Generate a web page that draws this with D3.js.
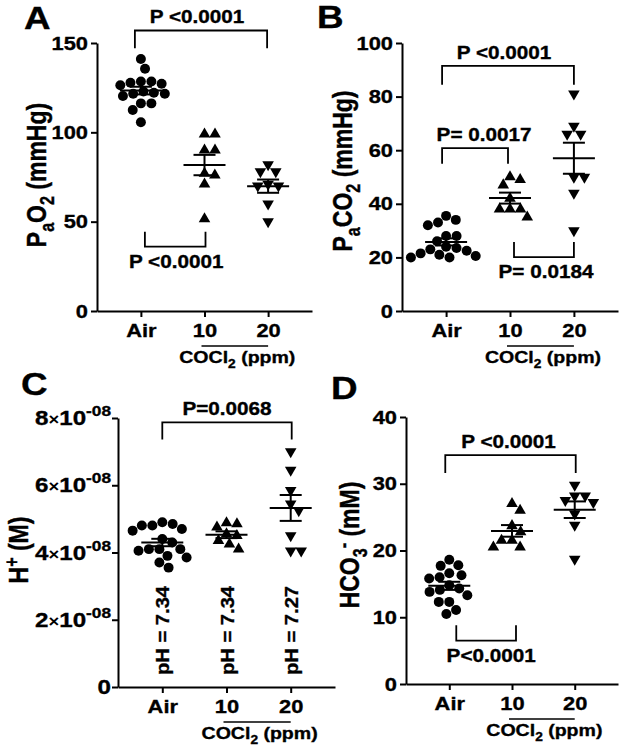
<!DOCTYPE html>
<html>
<head>
<meta charset="utf-8">
<script src="https://cdn.jsdelivr.net/npm/d3@7"></script>
<style>
    body { margin: 0; background: #fff; }
    svg { font-family: "Liberation Sans", Arial, sans-serif; font-weight: bold; }
    svg text { stroke: #000; stroke-width: 0.35px; fill: #000; }
</style>
</head>
<body>
<svg id="chart" width="625" height="750"></svg>
<script>
var groups = ["Air", "10", "20"];

// A: PaO2 (mmHg)
var pao2Air = [141, 135.6, 128.5, 127.8, 126.3, 127.2, 128.5, 121.6, 121.6, 120.3, 122.2, 116.2, 116.2, 112.5, 105.6, 122.8];
var pao2Ten = [99, 99, 90, 90, 77, 76, 71, 51.5];
var pao2Twenty = [78, 78, 82, 71, 70, 70, 60, 50];

// B: PaCO2 (mmHg)
var paco2Air = [35.5, 34, 33, 32, 28, 28, 26, 24, 23.5, 23, 22.5, 21.5, 21, 20.5, 20, 20];
var paco2Ten = [49, 50, 47, 42, 38, 38, 38, 35];
var paco2Twenty = [81, 66, 66, 69, 50, 50, 44, 30];

// C: H+ (M)
var hAir = [4.9e-8, 4.85e-8, 4.8e-8, 4.8e-8, 4.7e-8, 4.65e-8, 4.4e-8, 4.3e-8, 4.1e-8, 4.1e-8, 4.05e-8, 4.1e-8, 3.9e-8, 3.85e-8, 3.7e-8, 3.55e-8];
var hTen = [4.85e-8, 4.88e-8, 4.75e-8, 4.55e-8, 4.5e-8, 4.35e-8, 4.25e-8, 4.1e-8];
var hTwenty = [7.0e-8, 6.45e-8, 5.85e-8, 5.45e-8, 5.25e-8, 4.5e-8, 4.05e-8, 4.05e-8];
var phLabels = ["7.34", "7.34", "7.27"];

// D: HCO3- (mM)
var hco3Air = [18.6, 17.8, 17.7, 16.6, 16.3, 16.0, 15.8, 14.8, 14.3, 14.1, 13.8, 13.3, 12.3, 12.3, 11.1, 10.5];
var hco3Ten = [27, 26, 23.7, 22.8, 21.5, 21.5, 20.5, 20.5];
var hco3Twenty = [29.8, 28.2, 28.2, 27.5, 27.2, 25.5, 23.8, 18.7];

var ticksA = [0, 50, 100, 150];
var ticksB = [0, 20, 40, 60, 80, 100];
var ticksC = [0, 2e-8, 4e-8, 6e-8, 8e-8];
var ticksD = [0, 10, 20, 30, 40];

var SX = 1.15;
var svg = d3.select("#chart");

var panels = [
    {
        letter: "A", lx: 24, ly: 29,
        left: 97, right: 312, top: 43, bottom: 311, max: 150, ticks: ticksA,
        series: [pao2Air, pao2Ten, pao2Twenty],
        label: [["P", 0], ["a", 1], ["O", 0], ["2", 1], [" (mmHg)", 0]], labelX: 46, labelY: 175,
        brackets: [
            {from: "Air", to: "20", y: 157, leg: 147, text: "P <0.0001", dx1: -6, dx2: -1, tx: -4},
            {from: "Air", to: "10", y: 36, leg: 44.4, text: "P <0.0001", dx1: 4, dx2: 1, tx: 1, below: true}
        ]
    },
    {
        letter: "B", lx: 317, ly: 28,
        left: 402, right: 618, top: 43, bottom: 311, max: 100, ticks: ticksB,
        series: [paco2Air, paco2Ten, paco2Twenty],
        label: [["P", 0], ["a", 1], ["CO", 0], ["2", 1], [" (mmHg)", 0]], labelX: 352, labelY: 171,
        brackets: [
            {from: "Air", to: "20", y: 91.5, leg: 84.4, text: "P <0.0001", dx1: -4, dx2: 0, tx: -4},
            {from: "Air", to: "10", y: 60.8, leg: 54.9, text: "P= 0.0017", dx1: -4, dx2: -2, tx: 9},
            {from: "10", to: "20", y: 20.1, leg: 25.7, text: "P= 0.0184", dx1: 4, dx2: 0, tx: 2, below: true}
        ]
    },
    {
        letter: "C", lx: 21, ly: 395,
        left: 118, right: 335, top: 418, bottom: 687, max: 8e-8, ticks: ticksC, sci: true,
        series: [hAir, hTen, hTwenty],
        label: [["H", 0], ["+", 2], [" (M)", 0]], labelX: 28, labelY: 550,
        ph: phLabels,
        brackets: [
            {from: "Air", to: "20", y: 7.87e-8, leg: 7.36e-8, text: "P=0.0068", dx1: 0, dx2: 1, tx: 0}
        ]
    },
    {
        letter: "D", lx: 331, ly: 399,
        left: 406, right: 618, top: 417, bottom: 684, max: 40, ticks: ticksD,
        series: [hco3Air, hco3Ten, hco3Twenty],
        label: [["HCO", 0], ["3", 1], ["-", 2], [" (mM)", 0]], labelX: 359, labelY: 545,
        brackets: [
            {from: "Air", to: "20", y: 34.3, leg: 31.6, text: "P <0.0001", dx1: -4, dx2: 1, tx: -2},
            {from: "Air", to: "10", y: 6.5, leg: 8.8, text: "P<0.0001", dx1: 7, dx2: 4, tx: 5, below: true}
        ]
    }
];

function addText(g, x, y, parts, size, anchor, rotate, sx, sy) {
    var t = g.append("text")
        .attr("transform", "translate(" + x + "," + y + ")" + (rotate ? " rotate(-90)" : "") +
            " scale(" + sx + "," + (sy || 1) + ")")
        .attr("text-anchor", anchor)
        .style("font-size", size + "px");
    var shift = 0;
    parts.forEach(function (p) {
        var target = p[1] === 1 ? size * 0.3 : (p[1] === 2 ? -size * 0.33 : 0);
        t.append("tspan")
            .attr("dy", target - shift)
            .style("font-size", (p[1] ? size * 0.7 : size) + "px")
            .text(p[0]);
        shift = target;
    });
    return t;
}

function swarm(ys, dist) {
    var placed = [];
    var out = new Array(ys.length);
    var order = ys.map(function (v, i) { return i; }).sort(function (a, b) { return ys[a] - ys[b]; });
    order.forEach(function (i) {
        var y = ys[i];
        var cands = [0];
        placed.forEach(function (p) {
            var dy = Math.abs(p.y - y);
            if (dy < dist) {
                var dx = Math.sqrt(dist * dist - dy * dy);
                cands.push(p.x + dx, p.x - dx);
            }
        });
        cands.sort(function (a, b) { return Math.abs(a) - Math.abs(b); });
        var x = cands.find(function (c) {
            return placed.every(function (p) {
                return Math.hypot(p.x - c, p.y - y) >= dist - 1e-6;
            });
        });
        placed.push({x: x, y: y});
        out[i] = x;
    });
    return out;
}

function drawPanel(p) {
    var g = svg.append("g");
    var x = d3.scalePoint().domain(groups).range([p.left, p.right]).padding(0.69);
    var y = d3.scaleLinear().domain([0, p.max]).range([p.bottom, p.top]);

    // y axis
    var pad = p.sci ? 1 : 3;
    var yAxis = d3.axisLeft(y).tickValues(p.ticks).tickSize(6).tickSizeOuter(0)
        .tickPadding(pad).tickFormat(p.sci ? function () { return ""; } : d3.format("d"));
    var ya = g.append("g").attr("transform", "translate(" + p.left + ",0)").call(yAxis);
    ya.selectAll("text").style("font-size", p.sci ? "21px" : "19px")
        .attr("x", -(6 + pad) / SX).attr("transform", "scale(" + SX + ",1)");
    if (p.sci) {
        ya.selectAll(".tick text").each(function (d) {
            var t = d3.select(this);
            if (d === 0) {
                t.text("0");
                return;
            }
            t.append("tspan").text(Math.round(d / 1e-8));
            t.append("tspan").style("font-size", "16px").attr("stroke-width", 0).text("\u00d7");
            t.append("tspan").text("10");
            t.append("tspan").style("font-size", "15px").attr("dy", "-0.6em").text("-08");
        });
    }

    // x axis
    var xAxis = d3.axisBottom(x).tickSize(6).tickSizeOuter(0).tickPadding(7);
    var xa = g.append("g").attr("transform", "translate(0," + p.bottom + ")").call(xAxis);
    xa.selectAll("text").style("font-size", "19px").attr("transform", "scale(" + SX + ",1)");
    g.selectAll(".domain, .tick line").attr("stroke", "#000").attr("stroke-width", 2);

    // COCl2 label
    g.append("line")
        .attr("x1", x("10") - 3).attr("x2", x("20"))
        .attr("y1", p.bottom + 35).attr("y2", p.bottom + 35)
        .attr("stroke", "#000").attr("stroke-width", 1.6);
    addText(g, (x("10") + x("20")) / 2 + 1, p.bottom + 52,
        [["COCl", 0], ["2", 1], [" (ppm)", 0]], 17, "middle", false, SX);

    // y label and panel letter
    addText(g, p.labelX, p.labelY, p.label, 23, "middle", true, 1, 1.2);
    addText(g, p.lx, p.ly, [[p.letter, 0]], 32, "start", false, SX);

    // points
    var shapes = [d3.symbolCircle, d3.symbolTriangle, d3.symbolTriangle];
    var sizes = [78, 58, 58];
    p.series.forEach(function (vals, gi) {
        var cx = x(groups[gi]);
        var ys = vals.map(function (v) { return y(v); });
        var offs = swarm(ys, 10.5);
        g.append("g").selectAll("path")
            .data(vals)
            .enter()
            .append("path")
            .attr("d", d3.symbol().type(shapes[gi]).size(sizes[gi]))
            .attr("transform", function (d, i) {
                return "translate(" + (cx + offs[i]) + "," + y(d) + ")" + (gi === 2 ? " rotate(180)" : "");
            })
            .attr("fill", "#000");

        var m = d3.mean(vals);
        var sem = d3.deviation(vals) / Math.sqrt(vals.length);
        var eb = g.append("g").attr("stroke", "#000").attr("stroke-width", 2);
        eb.append("line").attr("x1", cx - 21).attr("x2", cx + 21).attr("y1", y(m)).attr("y2", y(m));
        eb.append("line").attr("x1", cx).attr("x2", cx).attr("y1", y(m - sem)).attr("y2", y(m + sem));
        [m - sem, m + sem].forEach(function (v) {
            eb.append("line").attr("x1", cx - 11).attr("x2", cx + 11).attr("y1", y(v)).attr("y2", y(v));
        });
    });

    // significance brackets
    p.brackets.forEach(function (b) {
        var x1 = x(b.from) + b.dx1;
        var x2 = x(b.to) + b.dx2;
        g.append("path")
            .attr("d", "M" + x1 + "," + y(b.leg) + "V" + y(b.y) + "H" + x2 + "V" + y(b.leg))
            .attr("fill", "none").attr("stroke", "#000").attr("stroke-width", 1.8);
        addText(g, (x1 + x2) / 2 + b.tx, y(b.y) + (b.below ? 21 : -7), [[b.text, 0]], 18, "middle", false, SX);
    });

    // pH labels
    if (p.ph) {
        p.ph.forEach(function (ph, gi) {
            addText(g, x(groups[gi]) + 7, p.bottom - 12, [["pH = " + ph, 0]], 18, "start", true, 1.12);
        });
    }
}

panels.forEach(drawPanel);
</script>
</body>
</html>
